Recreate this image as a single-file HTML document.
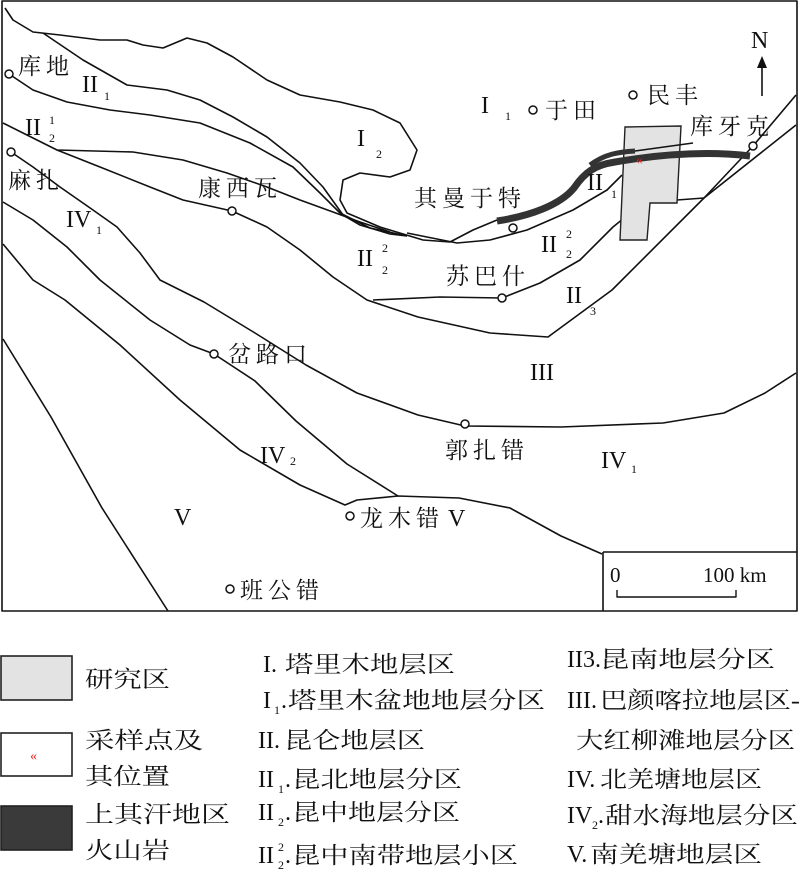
<!DOCTYPE html>
<html><head><meta charset="utf-8"><style>
html,body{margin:0;padding:0;background:#fff;}
svg{display:block;}
text{font-family:"Liberation Serif","Noto Serif CJK SC","Noto Sans CJK SC",serif;fill:#111;}
.c{font-size:23px;letter-spacing:5px;}
.L{font-size:23px;}
.r{font-size:24px;font-family:"Liberation Serif",serif;}
.s{font-size:12px;font-family:"Liberation Serif",serif;letter-spacing:0;}
</style></head><body>
<svg width="800" height="884" viewBox="0 0 800 884" xmlns="http://www.w3.org/2000/svg">
<g fill="none" stroke="#111" stroke-width="1.6" stroke-linejoin="round">
<path d="M2 1 L797 1 L797 611 L2 611 Z"/>
<path d="M5 8 L13 20 L33 32 L60 35 L100 40 L127 40 L143 45 L163 48 L187 38 L207 43 L233 57 L267 80 L300 95 L340 102 L373 110 L400 123 L417 150 L410 170 L390 177 L360 173 L343 180 L340 200 L347 213 L380 227 L423 240 L450 242 L473 230 L497 220"/>
<path d="M43 33 L83 60 L127 85 L167 90 L200 100 L233 117 L267 137 L300 163 L323 187 L343 215 L360 225 L390 234 L407 236"/>
<path d="M9 74 L33 90 L67 102 L110 110 L150 115 L200 123 L250 143 L293 167 L320 193 L340 213 L370 228 L407 236"/>
<path d="M407 233 L457 243 L490 240 L527 230 L573 210 L607 190 L622 175"/>
<path d="M3 123 L33 138 L57 150 L133 152 L183 160 L227 173 L267 187 L300 200 L333 212 L360 222 L390 232"/>
<path d="M57 150 L100 167 L150 187 L183 200 L232 211 L267 227 L300 250 L333 277 L367 300 L418 317 L490 333 L548 337 L612 290 L704 198 L796 125"/>
<path d="M373 300 L440 297 L502 298 L540 283 L580 260 L613 227 L640 205 L650 202 L704 198"/>
<path d="M796 95 L753 146 L704 198"/>
<path d="M11 152 L33 167 L60 187 L93 210 L117 227 L140 253 L160 280 L204 302 L255 333 L306 365 L357 393 L418 415 L465 426 L561 427 L663 423 L724 413 L765 393 L796 373"/>
<path d="M3 202 L33 220 L67 247 L100 280 L150 320 L190 345 L214 354 L255 381 L296 421 L347 464 L398 496"/>
<path d="M3 244 L33 280 L65 300 L120 345 L180 400 L240 450 L300 485 L345 505 L357 500 L398 496 L459 498 L510 508 L561 536 L602 554"/>
<path d="M3 339 L51 417 L102 508 L168 611"/>
<path d="M603 552 L797 552 M603 552 L603 611"/>
<path d="M617 590 L617 597 L736 597 L736 590" stroke-width="1.4"/>
<path d="M762 96 L762 66"/>
</g>
<path d="M757 68 L762 56 L767 68 Z" fill="#111"/>
<path d="M625 127 L681 126 L677 203 L650 203 L647 240 L620 240 Z" fill="#e3e3e3" stroke="#222" stroke-width="1.4"/>
<path d="M497 221 C530 216 560 205 574 188 C585 172 595 165 615 162 C650 156 700 150 750 156" fill="none" stroke="#333" stroke-width="7"/>
<path d="M590 165 C605 154 618 152 635 151" fill="none" stroke="#333" stroke-width="5"/>
<path d="M635 151 L693 143" fill="none" stroke="#111" stroke-width="1.4"/>
<text x="636" y="164" font-size="13" style="fill:#e22">«</text>
<g fill="#fff" stroke="#111" stroke-width="1.5">
<circle cx="9" cy="74" r="4"/><circle cx="11" cy="152" r="4"/><circle cx="232" cy="211" r="4"/>
<circle cx="533" cy="110" r="4"/><circle cx="633" cy="95" r="4"/><circle cx="753" cy="146" r="4"/>
<circle cx="513" cy="228" r="4"/><circle cx="502" cy="298" r="4"/><circle cx="214" cy="354" r="4"/>
<circle cx="465" cy="424" r="4"/><circle cx="350" cy="516" r="4"/><circle cx="230" cy="589" r="4"/>
</g>
<text class="c" x="18" y="74">库地</text>
<text class="c" x="8" y="188">麻扎</text>
<text class="c" x="198" y="196">康西瓦</text>
<text class="c" x="545" y="118">于田</text>
<text class="c" x="647" y="103">民丰</text>
<text class="c" x="690" y="134">库牙克</text>
<text class="c" x="414" y="206">其曼于特</text>
<text class="c" x="446" y="284">苏巴什</text>
<text class="c" x="228" y="362">岔路口</text>
<text class="c" x="445" y="458">郭扎错</text>
<text class="c" x="360" y="526">龙木错</text>
<text class="r" x="448" y="526">V</text>
<text class="c" x="240" y="598">班公错</text>
<text class="r" x="751" y="48">N</text>
<text class="r" x="82" y="92">II</text><text class="s" x="104" y="100">1</text>
<text class="r" x="25" y="135">II</text><text class="s" x="49" y="124">1</text><text class="s" x="49" y="142">2</text>
<text class="r" x="66" y="227">IV</text><text class="s" x="96" y="234">1</text>
<text class="r" x="357" y="146">I</text><text class="s" x="376" y="158">2</text>
<text class="r" x="481" y="113">I</text><text class="s" x="505" y="120">1</text>
<text class="r" x="587" y="190">II</text><text class="s" x="611" y="198">1</text>
<text class="r" x="541" y="252">II</text><text class="s" x="566" y="238">2</text><text class="s" x="566" y="258">2</text>
<text class="r" x="357" y="266">II</text><text class="s" x="382" y="252">2</text><text class="s" x="382" y="274">2</text>
<text class="r" x="566" y="303">II</text><text class="s" x="590" y="315">3</text>
<text class="r" x="530" y="380">III</text>
<text class="r" x="260" y="463">IV</text><text class="s" x="290" y="465">2</text>
<text class="r" x="601" y="468">IV</text><text class="s" x="631" y="473">1</text>
<text class="r" x="174" y="525">V</text>
<text x="610" y="582" font-size="21" style="font-family:'Liberation Serif',serif">0</text>
<text x="703" y="582" font-size="21" style="font-family:'Liberation Serif',serif">100 km</text>
<rect x="1" y="656" width="71" height="44" fill="#e3e3e3" stroke="#222" stroke-width="1.6"/>
<rect x="1" y="733" width="71" height="43" fill="#fff" stroke="#222" stroke-width="1.6"/>
<rect x="1" y="806" width="71" height="44" fill="#3a3a3a" stroke="#222" stroke-width="1.6"/>
<text x="30" y="760" font-size="14" style="fill:#e22">«</text>
<text class="L" x="85" y="687" textLength="85" lengthAdjust="spacingAndGlyphs">研究区</text>
<text class="L" x="85" y="748" textLength="118" lengthAdjust="spacingAndGlyphs">采样点及</text>
<text class="L" x="85" y="784" textLength="85" lengthAdjust="spacingAndGlyphs">其位置</text>
<text class="L" x="85" y="822" textLength="145" lengthAdjust="spacingAndGlyphs">上其汗地区</text>
<text class="L" x="85" y="858" textLength="85" lengthAdjust="spacingAndGlyphs">火山岩</text>
<!-- middle column -->
<text class="r" x="263" y="672">I.</text>
<text class="L" x="285" y="672" textLength="170" lengthAdjust="spacingAndGlyphs">塔里木地层区</text>
<text class="r" x="263" y="708">I</text><text class="s" x="274" y="714">1</text><text class="r" x="281" y="708">.</text>
<text class="L" x="288" y="708" textLength="257" lengthAdjust="spacingAndGlyphs">塔里木盆地地层分区</text>
<text class="r" x="258" y="748">II.</text>
<text class="L" x="284" y="748" textLength="141" lengthAdjust="spacingAndGlyphs">昆仑地层区</text>
<text class="r" x="258" y="787">II</text><text class="s" x="278" y="793">1</text><text class="r" x="285" y="787">.</text>
<text class="L" x="292" y="787" textLength="170" lengthAdjust="spacingAndGlyphs">昆北地层分区</text>
<text class="r" x="258" y="820">II</text><text class="s" x="278" y="826">2</text><text class="r" x="285" y="820">.</text>
<text class="L" x="292" y="820" textLength="168" lengthAdjust="spacingAndGlyphs">昆中地层分区</text>
<text class="r" x="258" y="863">II</text><text class="s" x="278" y="851">2</text><text class="s" x="278" y="869">2</text><text class="r" x="285" y="863">.</text>
<text class="L" x="292" y="863" textLength="226" lengthAdjust="spacingAndGlyphs">昆中南带地层小区</text>
<!-- right column -->
<text class="r" x="567" y="667">II3.</text>
<text class="L" x="600" y="667" textLength="175" lengthAdjust="spacingAndGlyphs">昆南地层分区</text>
<text class="r" x="567" y="708">III.</text>
<text class="L" x="600" y="708" textLength="200" lengthAdjust="spacingAndGlyphs">巴颜喀拉地层区-</text>
<text class="L" x="576" y="748" textLength="219" lengthAdjust="spacingAndGlyphs">大红柳滩地层分区</text>
<text class="r" x="567" y="787">IV.</text>
<text class="L" x="600" y="787" textLength="162" lengthAdjust="spacingAndGlyphs">北羌塘地层区</text>
<text class="r" x="567" y="823">IV</text><text class="s" x="592" y="829">2</text><text class="r" x="598" y="823">.</text>
<text class="L" x="605" y="823" textLength="193" lengthAdjust="spacingAndGlyphs">甜水海地层分区</text>
<text class="r" x="567" y="862">V.</text>
<text class="L" x="590" y="862" textLength="172" lengthAdjust="spacingAndGlyphs">南羌塘地层区</text>
</svg>
</body></html>
